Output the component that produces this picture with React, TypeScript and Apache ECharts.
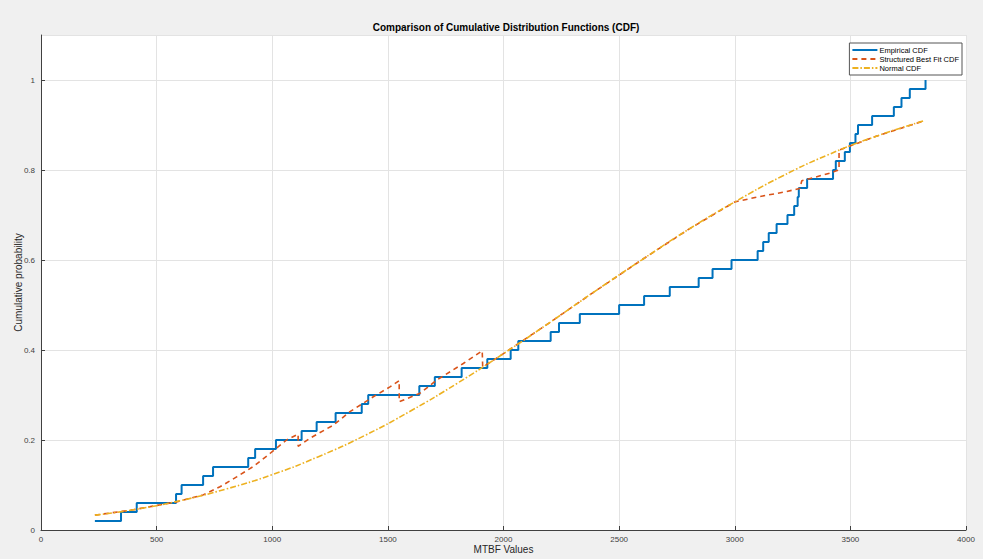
import React, { useEffect, useRef } from "react";
import * as echarts from "echarts";

// Sorted MTBF sample values (empirical CDF step positions)
const empiricalX = [
  233, 346, 414, 584, 608, 701, 744, 896, 926, 1016,
  1127, 1192, 1274, 1387, 1415, 1636, 1703, 1819, 1930, 2031,
  2064, 2204, 2240, 2330, 2500, 2608, 2719, 2844, 2904, 2986,
  3099, 3123, 3147, 3181, 3228, 3257, 3272, 3277, 3313, 3425,
  3437, 3476, 3498, 3522, 3533, 3594, 3688, 3721, 3757, 3825,
];
const empiricalP = [
  0.02, 0.04, 0.06, 0.08, 0.1, 0.12, 0.14, 0.16, 0.18, 0.2,
  0.22, 0.24, 0.26, 0.28, 0.3, 0.32, 0.34, 0.36, 0.38, 0.4,
  0.42, 0.44, 0.46, 0.48, 0.5, 0.52, 0.54, 0.56, 0.58, 0.6,
  0.62, 0.64, 0.66, 0.68, 0.7, 0.72, 0.74, 0.76, 0.78, 0.8,
  0.82, 0.84, 0.86, 0.88, 0.9, 0.92, 0.94, 0.96, 0.98, 1.0,
];

// Structured best fit CDF (piecewise)
const structuredX = [
  233, 400, 590, 701, 774, 846, 918, 990, 1062, 1112,
  1112, 1163, 1264, 1336, 1437, 1509, 1549,
  1549, 1639, 1711, 1826, 1908,
  1910, 2000, 2200, 2400, 2600, 2800, 3000,
  3108, 3224, 3281, 3290, 3411, 3433, 3451,
  3451, 3600, 3822,
];
const structuredP = [
  0.033, 0.045, 0.063, 0.078, 0.096, 0.118, 0.141, 0.17, 0.2, 0.213,
  0.186, 0.204, 0.233, 0.263, 0.296, 0.318, 0.332,
  0.285, 0.304, 0.333, 0.37, 0.398,
  0.362, 0.392, 0.461, 0.532, 0.601, 0.668, 0.729,
  0.741, 0.752, 0.759, 0.776, 0.793, 0.797, 0.8,
  0.844, 0.873, 0.91,
];

// Normal CDF curve
const normalX = [
  233, 400, 600, 800, 1000, 1200, 1400, 1600, 1800, 2000,
  2200, 2400, 2600, 2800, 3000, 3200, 3400, 3600, 3822,
];
const normalP = [
  0.033, 0.045, 0.065, 0.091, 0.123, 0.163, 0.21, 0.265, 0.326, 0.392,
  0.461, 0.532, 0.601, 0.668, 0.729, 0.785, 0.833, 0.873, 0.91,
];

const xTicks = { min: 0, max: 4000, interval: 500 };
const yTicks = { min: 0, max: 1.1, interval: 0.2 };

const FONT = "'Liberation Sans', Arial, Helvetica, sans-serif";

export default function App() {
  const ref = useRef<HTMLDivElement>(null);
  useEffect(() => {
    document.body.style.margin = "0";
    if (!ref.current) return;
    const chart = echarts.init(ref.current, undefined, { renderer: "svg" });
    const zip = (xs: number[], ys: number[]) => xs.map((x, i) => [x, ys[i]]);
    chart.setOption({
      animation: false,
      backgroundColor: "#f0f0f0",
      textStyle: { fontFamily: FONT },
      graphic: [
        {
          type: "text",
          x: 506,
          y: 27,
          style: {
            text: "Comparison of Cumulative Distribution Functions (CDF)",
            fontFamily: FONT,
            fontSize: 10,
            fontWeight: "bold",
            fill: "#000",
            textAlign: "center",
            textVerticalAlign: "middle",
          },
        },
      ],
      grid: {
        left: 41,
        right: 17,
        top: 35,
        bottom: 29,
        show: true,
        containLabel: false,
        outerBoundsMode: "none",
        backgroundColor: "#ffffff",
        borderWidth: 0,
      },
      legend: {
        right: 21,
        top: 43,
        orient: "vertical",
        align: "left",
        backgroundColor: "#ffffff",
        borderColor: "#555",
        borderWidth: 1,
        borderRadius: 0,
        padding: [3, 3, 3, 2],
        itemGap: 1,
        itemWidth: 25,
        itemHeight: 8,
        itemStyle: { opacity: 0 },
        textStyle: { fontSize: 7.5, color: "#000", fontFamily: FONT, padding: [0, 0, 0, -3] },
        data: ["Empirical CDF", "Structured Best Fit CDF", "Normal CDF"],
      },
      xAxis: {
        type: "value",
        min: xTicks.min,
        max: xTicks.max,
        interval: xTicks.interval,
        name: "MTBF Values",
        nameLocation: "middle",
        nameGap: 14,
        nameMoveOverlap: false,
        nameTextStyle: { fontSize: 10, color: "#262626", fontFamily: FONT },
        axisLine: { show: true, onZero: false, lineStyle: { color: "#404040", width: 1 } },
        axisTick: { show: true, inside: true, length: 4, lineStyle: { color: "#404040" } },
        axisLabel: {
          fontSize: 8,
          color: "#404040",
          margin: 5,
          fontFamily: FONT,
          formatter: (v: number) => String(v),
        },
        splitLine: { show: true, lineStyle: { color: "#e3e3e3", width: 1 } },
      },
      yAxis: {
        type: "value",
        min: yTicks.min,
        max: yTicks.max,
        interval: yTicks.interval,
        name: "Cumulative probability",
        nameLocation: "middle",
        nameGap: 18,
        nameMoveOverlap: false,
        nameTextStyle: { fontSize: 10, color: "#262626", fontFamily: FONT },
        axisLine: { show: true, onZero: false, lineStyle: { color: "#404040", width: 1 } },
        axisTick: { show: true, inside: true, length: 4, lineStyle: { color: "#404040" } },
        axisLabel: {
          fontSize: 8,
          color: "#404040",
          margin: 6,
          fontFamily: FONT,
          showMaxLabel: false,
          formatter: (v: number) => {
            const r = Math.round(v * 10) / 10;
            return String(r);
          },
        },
        splitLine: { show: true, lineStyle: { color: "#e3e3e3", width: 1 } },
      },
      series: [
        {
          name: "Empirical CDF",
          type: "line",
          step: "end",
          data: zip(empiricalX, empiricalP),
          symbol: "none",
          lineStyle: { color: "#0072BD", width: 2 },
          itemStyle: { color: "#0072BD" },
          z: 2,
        },
        {
          name: "Structured Best Fit CDF",
          type: "line",
          data: zip(structuredX, structuredP),
          symbol: "none",
          lineStyle: { color: "#D95319", width: 1.6, type: [5, 4] },
          itemStyle: { color: "#D95319" },
          z: 3,
        },
        {
          name: "Normal CDF",
          type: "line",
          smooth: true,
          data: zip(normalX, normalP),
          symbol: "none",
          lineStyle: { color: "#EDB120", width: 1.6, type: [6, 2, 1.5, 2] },
          itemStyle: { color: "#EDB120" },
          z: 4,
        },
      ],
    });
    return () => chart.dispose();
  }, []);
  return <div ref={ref} style={{ width: 983, height: 559 }} />;
}
